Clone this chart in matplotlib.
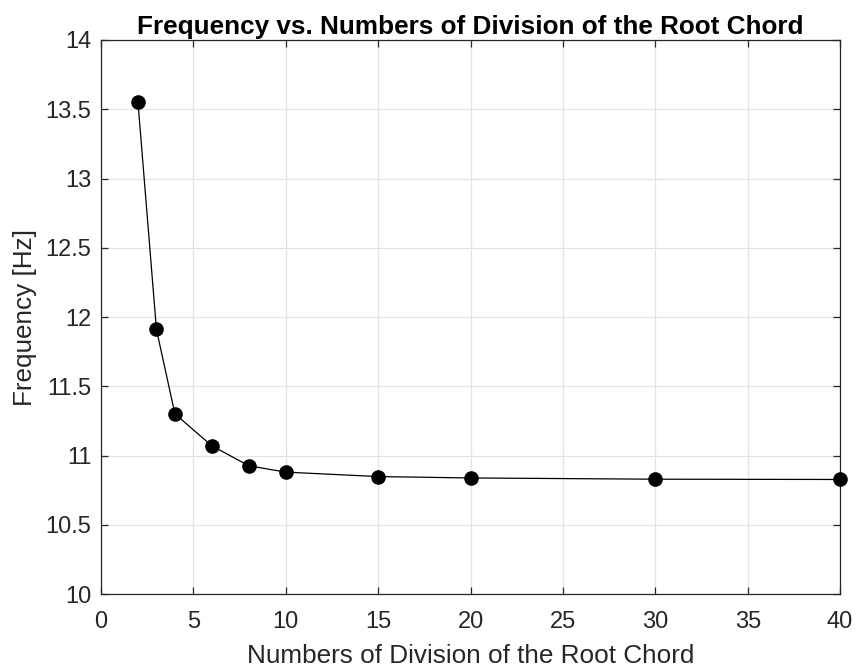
import matplotlib

matplotlib.use("Agg")
import matplotlib.pyplot as plt

plt.rcParams["font.family"] = ["Liberation Sans", "DejaVu Sans"]

# Mesh refinement study: divisions along the root chord vs. first natural frequency
divisions = [2, 3, 4, 6, 8, 10, 15, 20, 30, 40]
frequency_hz = [13.55, 11.91, 11.30, 11.07, 10.926, 10.880, 10.848, 10.838, 10.829, 10.827]

x_ticks = list(range(0, 41, 5))
y_ticks = [10, 10.5, 11, 11.5, 12, 12.5, 13, 13.5, 14]
y_tick_labels = ["10", "10.5", "11", "11.5", "12", "12.5", "13", "13.5", "14"]

AX_COLOR = "#262626"

fig = plt.figure(figsize=(8.59, 6.70), dpi=100)
ax = fig.add_axes([0.1176, 0.1134, 0.8604, 0.8269])

ax.plot(divisions, frequency_hz, color="black", linewidth=0.9,
        marker="o", markersize=9.5, markerfacecolor="black",
        markeredgecolor="black", clip_on=False, zorder=3)

ax.set_xlim(0, 40)
ax.set_ylim(10, 14)
ax.set_xticks(x_ticks)
ax.set_yticks(y_ticks)
ax.set_yticklabels(y_tick_labels)

ax.grid(True, color="#e3e3e3", linewidth=0.9)
ax.set_axisbelow(True)
for side in ax.spines.values():
    side.set_color(AX_COLOR)
    side.set_linewidth(0.9)
ax.tick_params(direction="in", length=5, width=0.9, color=AX_COLOR,
               labelcolor=AX_COLOR, labelsize=17, top=True, right=True)
ax.tick_params(axis="x", pad=12)
ax.tick_params(axis="y", pad=7)

ax.set_xlabel("Numbers of Division of the Root Chord", fontsize=18.8,
              color=AX_COLOR, labelpad=8)
ax.set_ylabel("Frequency [Hz]", fontsize=18.8, color=AX_COLOR, labelpad=6)
ax.set_title("Frequency vs. Numbers of Division of the Root Chord",
             fontsize=18.8, fontweight="bold", color="black", pad=4.5)

fig.savefig("out.png", dpi=100)
